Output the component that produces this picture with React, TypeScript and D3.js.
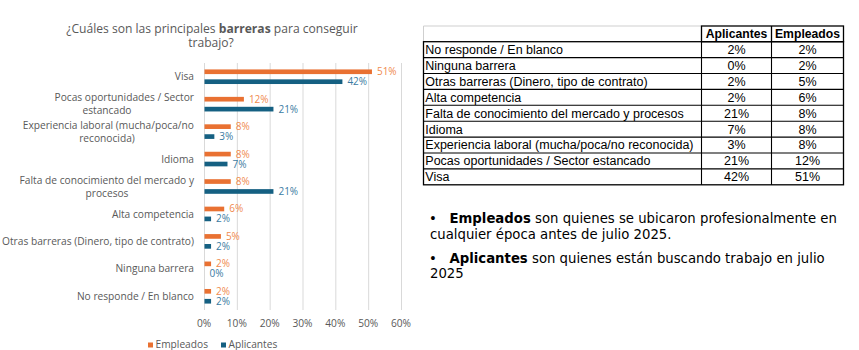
import React, { useEffect, useRef } from "react";
import * as d3 from "d3";

const categories = [
  "Visa",
  "Pocas oportunidades / Sector estancado",
  "Experiencia laboral (mucha/poca/no reconocida)",
  "Idioma",
  "Falta de conocimiento del mercado y procesos",
  "Alta competencia",
  "Otras barreras (Dinero, tipo de contrato)",
  "Ninguna barrera",
  "No responde / En blanco",
];
const categoryLines = [
  ["Visa"],
  ["Pocas oportunidades / Sector", "estancado"],
  ["Experiencia laboral (mucha/poca/no", "reconocida)"],
  ["Idioma"],
  ["Falta de conocimiento del mercado y", "procesos"],
  ["Alta competencia"],
  ["Otras barreras (Dinero, tipo de contrato)"],
  ["Ninguna barrera"],
  ["No responde / En blanco"],
];
const empleados = [51, 12, 8, 8, 8, 6, 5, 2, 2];
const aplicantes = [42, 21, 3, 7, 21, 2, 2, 0, 2];
const seriesNames = ["Empleados", "Aplicantes"];
const xTicks = [0, 10, 20, 30, 40, 50, 60];
const tableHeaders = ["Aplicantes", "Empleados"];

const ORANGE = "#E97132";
const BLUE = "#156082";
const ORANGE_LBL = "#F08A4E";
const BLUE_LBL = "#3A7BA2";
const GRAY = "#595959";
const FONT = "'Open Sans', sans-serif";

export default function App() {
  const ref = useRef<SVGSVGElement>(null);

  useEffect(() => {
    document.body.style.margin = "0";
    const svg = d3.select(ref.current);
    svg.selectAll("*").remove();

    // ---------- Chart ----------
    const x = d3.scaleLinear().domain([0, 60]).range([204, 401]);
    const y = d3.scaleBand<string>().domain(categories).range([63, 310]).padding(0);
    const sub = d3.scaleBand<string>().domain(seriesNames).range([-7.3, 7.3]).paddingInner(0.53);

    const g = svg.append("g");

    // title
    const title = g.append("text").attr("x", 212).attr("y", 32.5).attr("text-anchor", "middle")
      .attr("font-family", FONT).attr("font-size", 12.1).attr("fill", GRAY);
    title.append("tspan").text("¿Cuáles son las principales ");
    title.append("tspan").attr("font-weight", "bold").text("barreras");
    title.append("tspan").text(" para conseguir");
    g.append("text").attr("x", 211).attr("y", 47).attr("text-anchor", "middle")
      .attr("font-family", FONT).attr("font-size", 12.1).attr("fill", GRAY).text("trabajo?");

    // grid
    g.selectAll("line.grid").data(xTicks).join("line").attr("class", "grid")
      .attr("x1", (d) => x(d) + 0.5).attr("x2", (d) => x(d) + 0.5)
      .attr("y1", 63).attr("y2", 310).attr("stroke", "#D9D9D9").attr("stroke-width", 1);

    // x tick labels
    g.selectAll("text.xt").data(xTicks).join("text").attr("class", "xt")
      .attr("x", (d) => x(d)).attr("y", 326.5).attr("text-anchor", "middle")
      .attr("font-family", FONT).attr("font-size", 10.2).attr("fill", GRAY)
      .text((d) => d + "%");

    // category labels
    categories.forEach((c, i) => {
      const cy = y(c)! + y.bandwidth() / 2;
      const lines = categoryLines[i];
      if (lines.length === 1) {
        g.append("text").attr("x", 194).attr("y", cy + 3.6).attr("text-anchor", "end")
          .attr("font-family", FONT).attr("font-size", 10.2).attr("fill", GRAY).text(lines[0]);
      } else {
        g.append("text").attr("x", 194).attr("y", cy - 6.4 + 3.6).attr("text-anchor", "end")
          .attr("font-family", FONT).attr("font-size", 10.2).attr("fill", GRAY).text(lines[0]);
        g.append("text").attr("x", 107).attr("y", cy + 6.4 + 3.6).attr("text-anchor", "middle")
          .attr("font-family", FONT).attr("font-size", 10.2).attr("fill", GRAY).text(lines[1]);
      }
    });

    const series = [
      { name: "Empleados", values: empleados, color: ORANGE, lbl: ORANGE_LBL },
      { name: "Aplicantes", values: aplicantes, color: BLUE, lbl: BLUE_LBL },
    ];
    series.forEach((s) => {
      const data = categories.map((c, i) => ({ c, v: s.values[i] }));
      g.selectAll(null).data(data).join("rect")
        .attr("x", x(0) + 0.5)
        .attr("y", (d) => y(d.c)! + y.bandwidth() / 2 + sub(s.name)!)
        .attr("width", (d) => x(d.v) - x(0))
        .attr("height", sub.bandwidth())
        .attr("fill", s.color);
      g.selectAll(null).data(data).join("text")
        .attr("x", (d) => x(d.v) + 5.5)
        .attr("y", (d) => y(d.c)! + y.bandwidth() / 2 + sub(s.name)! + sub.bandwidth() / 2 + 3.5)
        .attr("font-family", FONT).attr("font-size", 10).attr("fill", s.lbl)
        .text((d) => d.v + "%");
    });

    // legend
    const leg = [
      { name: "Empleados", color: ORANGE, x: 148 },
      { name: "Aplicantes", color: BLUE, x: 221 },
    ];
    leg.forEach((l) => {
      g.append("rect").attr("x", l.x).attr("y", 342.5).attr("width", 5).attr("height", 5).attr("fill", l.color);
      g.append("text").attr("x", l.x + 7.5).attr("y", 348.2).attr("font-family", FONT)
        .attr("font-size", 10.2).attr("fill", GRAY).text(l.name);
    });

    // ---------- Table ----------
    const tf = "'Liberation Sans', Arial, sans-serif";
    const tfs = 12.5;
    const cols = [423.5, 701.5, 771.5, 843.5];
    const headerTop = 26;
    const rowH = 15.9;
    const headerBottom = 41.7;
    const tableRows = categories.map((c, i) => ({ c, a: aplicantes[i], e: empleados[i] })).reverse();
    const rowY = d3.scaleLinear().domain([0, tableRows.length]).range([headerBottom, headerBottom + rowH * tableRows.length]);
    const t = svg.append("g");

    // header left cell light border
    t.append("line").attr("x1", cols[0]).attr("x2", cols[1]).attr("y1", headerTop).attr("y2", headerTop)
      .attr("stroke", "#CFCFCF").attr("stroke-width", 1);
    t.append("line").attr("x1", cols[0]).attr("x2", cols[0]).attr("y1", headerTop).attr("y2", headerBottom)
      .attr("stroke", "#CFCFCF").attr("stroke-width", 1);

    // header cells
    t.append("rect").attr("x", cols[1]).attr("y", headerTop).attr("width", cols[3] - cols[1])
      .attr("height", headerBottom - headerTop).attr("fill", "none").attr("stroke", "#000").attr("stroke-width", 1.3);
    t.append("line").attr("x1", cols[2]).attr("x2", cols[2]).attr("y1", headerTop).attr("y2", headerBottom)
      .attr("stroke", "#000").attr("stroke-width", 1.3);
    tableHeaders.forEach((h, i) => {
      t.append("text").attr("x", (cols[i + 1] + cols[i + 2]) / 2).attr("y", headerBottom - 3.6)
        .attr("text-anchor", "middle").attr("font-family", tf).attr("font-weight", "bold")
        .attr("font-size", 12.2).attr("fill", "#000").text(h);
    });

    // body
    t.append("rect").attr("x", cols[0]).attr("y", headerBottom).attr("width", cols[3] - cols[0])
      .attr("height", rowH * tableRows.length).attr("fill", "none").attr("stroke", "#000").attr("stroke-width", 1.3);
    tableRows.forEach((r, i) => {
      if (i > 0) {
        t.append("line").attr("x1", cols[0]).attr("x2", cols[3]).attr("y1", rowY(i)).attr("y2", rowY(i))
          .attr("stroke", "#000").attr("stroke-width", 1.1);
      }
      const by = rowY(i + 1) - 3.6;
      t.append("text").attr("x", cols[0] + 1.8).attr("y", by).attr("font-family", tf)
        .attr("font-size", tfs).attr("fill", "#000").text(r.c);
      t.append("text").attr("x", (cols[1] + cols[2]) / 2).attr("y", by).attr("text-anchor", "middle")
        .attr("font-family", tf).attr("font-size", tfs).attr("fill", "#000").text(r.a + "%");
      t.append("text").attr("x", (cols[2] + cols[3]) / 2).attr("y", by).attr("text-anchor", "middle")
        .attr("font-family", tf).attr("font-size", tfs).attr("fill", "#000").text(r.e + "%");
    });
    [cols[1], cols[2]].forEach((cx) => {
      t.append("line").attr("x1", cx).attr("x2", cx).attr("y1", headerBottom).attr("y2", rowY(tableRows.length))
        .attr("stroke", "#000").attr("stroke-width", 1.1);
    });

    // ---------- Notes ----------
    const nf = "'DejaVu Sans', sans-serif";
    const nfs = 13.25;
    const notes = [
      { bold: "Empleados", rest: " son quienes se ubicaron profesionalmente en", cont: "cualquier época antes de julio 2025.", y: 223 },
      { bold: "Aplicantes", rest: " son quienes están buscando trabajo en julio", cont: "2025", y: 262.5 },
    ];
    notes.forEach((n) => {
      t.append("text").attr("x", 429).attr("y", n.y).attr("font-family", nf).attr("font-size", nfs)
        .attr("fill", "#000").text("•");
      const tx = t.append("text").attr("x", 449.5).attr("y", n.y).attr("font-family", nf)
        .attr("font-size", nfs).attr("fill", "#000");
      tx.append("tspan").attr("font-weight", "bold").text(n.bold);
      tx.append("tspan").text(n.rest);
      t.append("text").attr("x", 430).attr("y", n.y + 15.8).attr("font-family", nf)
        .attr("font-size", nfs).attr("fill", "#000").text(n.cont);
    });
  }, []);

  return (
    <svg ref={ref} width={859} height={350} style={{ position: "absolute", left: 0, top: 0, background: "#fff" }} />
  );
}
